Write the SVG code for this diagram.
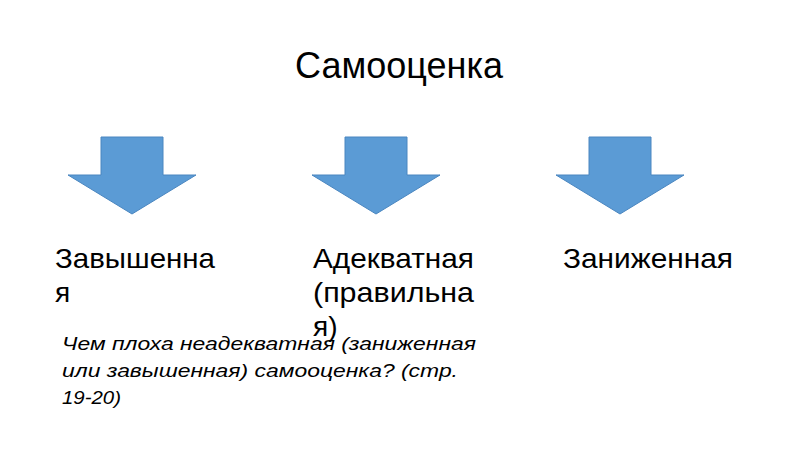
<svg xmlns="http://www.w3.org/2000/svg" width="800" height="450" viewBox="0 0 800 450">
<defs>
<style>
.t{font-family:"Liberation Sans",Arial,sans-serif;fill:#000}
.title{font-size:36px}
.lbl{font-size:28px}
.it{font-size:19px;font-style:italic}
.arr{fill:#5b9bd5;stroke:#4a86c0;stroke-width:1}
</style>
<polygon id="downArrow" points="-31,0 31,0 31,38 64,38 0,77 -64,38 -31,38"/>
</defs>
<rect width="800" height="450" fill="#fff"/>
<g id="title"><text class="t title" x="399" y="78" text-anchor="middle">Самооценка</text></g>
<g id="connectors">
<use href="#downArrow" class="arr" x="132" y="137"/>
<use href="#downArrow" class="arr" x="376" y="137"/>
<use href="#downArrow" class="arr" x="620" y="137"/>
</g>
<g id="node-high"><text class="t lbl" x="55" y="268" textLength="160" lengthAdjust="spacingAndGlyphs">Завышенна</text><text class="t lbl" x="55" y="302">я</text></g>
<g id="node-adequate"><text class="t lbl" x="313" y="268" textLength="161" lengthAdjust="spacingAndGlyphs">Адекватная</text><text class="t lbl" x="313" y="302" textLength="161" lengthAdjust="spacingAndGlyphs">(правильна</text><text class="t lbl" x="313" y="336">я)</text></g>
<g id="node-low"><text class="t lbl" x="563" y="268" textLength="170" lengthAdjust="spacingAndGlyphs">Заниженная</text></g>
<g id="question"><text class="t it" x="62" y="350" textLength="414" lengthAdjust="spacingAndGlyphs">Чем плоха неадекватная (заниженная</text><text class="t it" x="62" y="377" textLength="396" lengthAdjust="spacingAndGlyphs">или завышенная) самооценка? (стр.</text><text class="t it" x="62" y="404" textLength="59" lengthAdjust="spacingAndGlyphs">19-20)</text></g>
</svg>
